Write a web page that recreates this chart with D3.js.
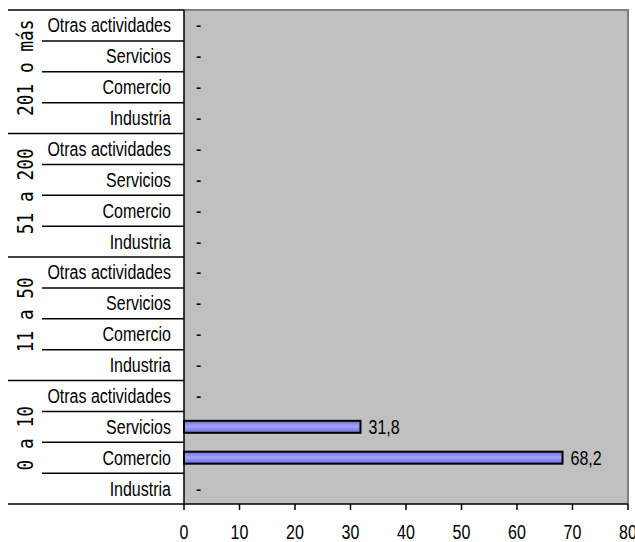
<!DOCTYPE html>
<html>
<head>
    <script src="https://cdnjs.cloudflare.com/ajax/libs/d3/7.8.5/d3.min.js"></script>
    <style>
        body { margin: 0; background: white; }
        .narrow { font-family: 'Liberation Sans', Arial, sans-serif; font-size: 20px; }
        .group-label { font-family: 'DejaVu Sans Mono', monospace; font-size: 21px; }
    </style>
</head>
<body>
    <div id="chart"></div>
    <script>
        // company size groups (bottom to top) and sectors inside each group (bottom to top)
        const groups = ['0 a 10', '11 a 50', '51 a 200', '201 o más'];
        const sectors = ['Industria', 'Comercio', 'Servicios', 'Otras actividades'];
        // one array per group, in the order of sectors
        const values0a10 = [0, 68.2, 31.8, 0];
        const values11a50 = [0, 0, 0, 0];
        const values51a200 = [0, 0, 0, 0];
        const values201 = [0, 0, 0, 0];
        const xTicks = [0, 10, 20, 30, 40, 50, 60, 70, 80];

        const groupValues = [values0a10, values11a50, values51a200, values201];

        // flatten to rows, top to bottom
        const rows = [];
        groupValues.forEach((vals, gi) => {
            vals.forEach((v, si) => {
                rows.push({ id: gi + '-' + si, group: groups[gi], sector: sectors[si], value: v, gi, si });
            });
        });
        rows.reverse();

        const W = 635, H = 542;
        const plot = { left: 184, right: 628, top: 10, bottom: 504 };
        const squeeze = 0.8; // the original font is a condensed one

        const svg = d3.select('#chart').append('svg')
            .attr('width', W)
            .attr('height', H);

        const x = d3.scaleLinear()
            .domain([0, 80])
            .range([plot.left, plot.right]);

        const y = d3.scaleBand()
            .domain(rows.map(d => d.id))
            .range([plot.top, plot.bottom]);

        const defs = svg.append('defs');
        const grad = defs.append('linearGradient')
            .attr('id', 'barGrad')
            .attr('x1', 0).attr('y1', 0).attr('x2', 0).attr('y2', 1);
        grad.append('stop').attr('offset', '0%').attr('stop-color', '#6b6bd6');
        grad.append('stop').attr('offset', '45%').attr('stop-color', '#a4a4ff');
        grad.append('stop').attr('offset', '100%').attr('stop-color', '#6b6bd6');

        // plot area
        svg.append('rect')
            .attr('x', plot.left)
            .attr('y', plot.top)
            .attr('width', plot.right - plot.left)
            .attr('height', plot.bottom - plot.top)
            .attr('fill', '#c0c0c0');
        svg.append('path')
            .attr('d', `M${plot.left},${plot.top}H${plot.right}V${plot.bottom}`)
            .attr('fill', 'none')
            .attr('stroke', '#808080')
            .attr('stroke-width', 2);

        // bars
        const barH = 12;
        svg.selectAll('.bar')
            .data(rows.filter(d => d.value > 0))
            .join('rect')
            .attr('class', 'bar')
            .attr('x', x(0))
            .attr('y', d => y(d.id) + y.bandwidth() / 2 - barH / 2)
            .attr('width', d => x(d.value) - x(0))
            .attr('height', barH)
            .attr('fill', 'url(#barGrad)')
            .attr('stroke', '#000')
            .attr('stroke-width', 2);

        // condensed text helper
        function narrowText(sel, px, py) {
            sel.attr('class', 'narrow')
                .attr('transform', (d, i) => `translate(${px(d, i)},${py(d, i)}) scale(${squeeze},1)`)
                .attr('dy', '0.35em');
        }

        // value labels
        const fmt = v => v === 0 ? '-' : d3.format('.1f')(v).replace('.', ',');
        svg.selectAll('.val')
            .data(rows)
            .join('text')
            .call(narrowText,
                d => d.value === 0 ? x(0) + 12 : x(d.value) + 8,
                d => y(d.id) + y.bandwidth() / 2)
            .text(d => fmt(d.value));

        // category axis lines
        const ySep = svg.append('g').attr('stroke', '#000').attr('stroke-width', 1.5);
        rows.forEach(d => {
            const top = y(d.id);
            const isGroupTop = d.si === sectors.length - 1;
            ySep.append('line')
                .attr('x1', isGroupTop ? 8 : 42)
                .attr('x2', plot.left)
                .attr('y1', top).attr('y2', top);
        });
        ySep.append('line')
            .attr('x1', plot.left).attr('x2', plot.left)
            .attr('y1', plot.top).attr('y2', plot.bottom);

        // sector labels
        svg.selectAll('.cat')
            .data(rows)
            .join('text')
            .call(narrowText, () => 171, d => y(d.id) + y.bandwidth() / 2)
            .attr('text-anchor', 'end')
            .text(d => d.sector);

        // group labels
        groups.forEach((g, gi) => {
            const gRows = rows.filter(d => d.gi === gi);
            const top = d3.min(gRows, d => y(d.id));
            const bottom = d3.max(gRows, d => y(d.id) + y.bandwidth());
            const cy = (top + bottom) / 2 - 4;
            svg.append('text')
                .attr('class', 'group-label')
                .attr('transform', `translate(26,${cy}) rotate(-90) scale(0.85,1)`)
                .attr('text-anchor', 'middle')
                .attr('dy', '0.35em')
                .text(g);
        });

        // x axis
        const xAxis = svg.append('g');
        xAxis.append('line')
            .attr('x1', 8).attr('x2', plot.right)
            .attr('y1', plot.bottom).attr('y2', plot.bottom)
            .attr('stroke', '#000').attr('stroke-width', 1.5);
        xAxis.selectAll('.xt')
            .data(xTicks)
            .join('line')
            .attr('x1', d => x(d)).attr('x2', d => x(d))
            .attr('y1', plot.bottom).attr('y2', plot.bottom + 6)
            .attr('stroke', '#000').attr('stroke-width', 1.5);
        xAxis.selectAll('.xl')
            .data(xTicks)
            .join('text')
            .call(narrowText, d => x(d), () => 532)
            .attr('text-anchor', 'middle')
            .text(d => d);
    </script>
</body>
</html>
